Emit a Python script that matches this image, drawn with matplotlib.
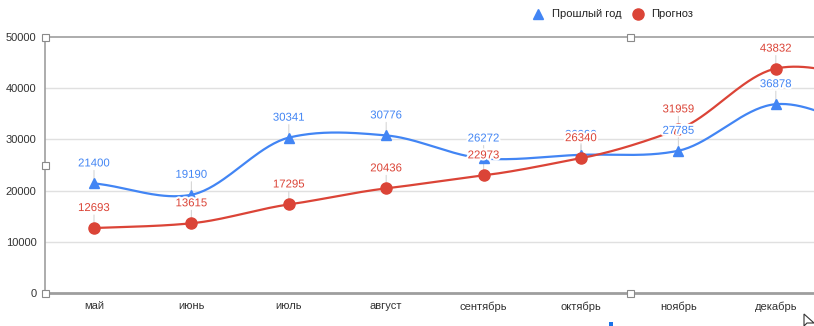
import numpy as np
import matplotlib
matplotlib.use("Agg")
import matplotlib.pyplot as plt
import matplotlib.patheffects as pe
from matplotlib.patches import Rectangle, Polygon

plt.rcParams['font.family'] = ['Liberation Sans', 'DejaVu Sans']

# ---- data ----
months = ["май", "июнь", "июль", "август", "сентябрь", "октябрь", "ноябрь", "декабрь", "январь"]
last_year = [21400, 19190, 30341, 30776, 26272, 26990, 27785, 36878, 31700]
forecast = [12693, 13615, 17295, 20436, 22973, 26340, 31959, 43832, 42000]
series_names = ["Прошлый год", "Прогноз"]
y_ticks = [0, 10000, 20000, 30000, 40000, 50000]

BLUE = "#4285F4"
RED = "#DB4437"

W, H = 814, 326
fig = plt.figure(figsize=(W / 100, H / 100), dpi=100)

def fx(px):
    return px / W

def fy(py):
    return 1 - py / H

ax_left, ax_top, ax_bottom = 45, 37, 293
ax = fig.add_axes([fx(ax_left), fy(ax_bottom), 1 - fx(ax_left), fy(ax_top) - fy(ax_bottom)])

sp = 97.4
x0 = 94
XLIM = ((ax_left - x0) / sp, (W - x0) / sp)


def smooth(vals, k=0.8, n=40):
    v = np.asarray(vals, dtype=float)
    m = np.zeros_like(v)
    m[1:-1] = k * (v[2:] - v[:-2]) / 2
    m[0] = k * (v[1] - v[0])
    m[-1] = k * (v[-1] - v[-2])
    xs, ys = [], []
    for i in range(len(v) - 1):
        s = np.linspace(0, 1, n)
        h00 = 2 * s**3 - 3 * s**2 + 1
        h10 = s**3 - 2 * s**2 + s
        h01 = -2 * s**3 + 3 * s**2
        h11 = s**3 - s**2
        xs.append(i + s)
        ys.append(h00 * v[i] + h10 * m[i] + h01 * v[i + 1] + h11 * m[i + 1])
    return np.concatenate(xs), np.concatenate(ys)

# grid
for t in y_ticks[1:-1]:
    ax.axhline(t, color="#e0e0e0", lw=1, zorder=0)
ax.axhline(50000, color="#9e9e9e", lw=1.2, zorder=1, clip_on=False)
ax.axhline(0, color="#9e9e9e", lw=2, zorder=1, clip_on=False)
for s in ax.spines.values():
    s.set_visible(False)
ax.axvline(XLIM[0], color="#9e9e9e", lw=1.2, zorder=1, clip_on=False)

xi = np.arange(len(months))
xs, ys = smooth(last_year)
ax.plot(xs, ys, color=BLUE, lw=1.6, zorder=3)
xs, ys = smooth(forecast)
ax.plot(xs, ys, color=RED, lw=1.6, zorder=3)
ax.plot(xi, last_year, ls="none", marker="^", ms=7, color=BLUE, zorder=4, clip_on=True)
ax.plot(xi, forecast, ls="none", marker="o", ms=8, color=RED, zorder=4, clip_on=True)

# annotations with stems
for vals, col, z in [(last_year, BLUE, 6), (forecast, RED, 7)]:
    for i, v in enumerate(vals[:8]):
        ax.annotate("", xy=(i, v), xytext=(0, 13), textcoords="offset pixels",
                    arrowprops=dict(arrowstyle="-", color="#d6d6d6", lw=0.8,
                                    shrinkA=0, shrinkB=0), zorder=2.5)
        ax.annotate(str(v), xy=(i, v), xytext=(0, 20), textcoords="offset pixels",
                    ha="center", va="center", color=col, fontsize=8.2, zorder=z,
                    path_effects=[pe.withStroke(linewidth=3, foreground="white")])

ax.set_xlim(*XLIM)
ax.set_ylim(0, 50000)
ax.set_yticks(y_ticks)
ax.set_yticklabels([str(t) for t in y_ticks])
ax.set_xticks(xi[:8])
ax.set_xticklabels(months[:8])
ax.tick_params(axis="both", length=0, labelsize=8, labelcolor="#333333")
ax.tick_params(axis="y", pad=6)
ax.tick_params(axis="x", pad=6)

# legend
fig.lines.append(plt.Line2D([fx(538)], [fy(14)], marker="^", ms=7, color=BLUE, ls="none",
                            transform=fig.transFigure))
fig.text(fx(552), fy(14), series_names[0], fontsize=8, color="#222222", va="center", ha="left")
fig.lines.append(plt.Line2D([fx(638)], [fy(14)], marker="o", ms=8, color=RED, ls="none",
                            transform=fig.transFigure))
fig.text(fx(651), fy(14), series_names[1], fontsize=8, color="#222222", va="center", ha="left")

# selection handles
for (hx, hy) in [(45, 37), (630, 37), (45, 165), (45, 293), (630, 293)]:
    fig.patches.append(Rectangle((fx(hx - 3.5), fy(hy + 3.5)), 7 / W, 7 / H,
                                 transform=fig.transFigure, facecolor="white",
                                 edgecolor="#8a8a8a", lw=0.8, zorder=10))
# small artifacts
fig.patches.append(Rectangle((fx(609), fy(326)), 4 / W, 4 / H, transform=fig.transFigure,
                             facecolor="#1a73e8", edgecolor="none", zorder=10))
fig.patches.append(Polygon([(fx(804), fy(314)), (fx(804), fy(326)), (fx(807), fy(323)),
                            (fx(814), fy(323))], closed=True, transform=fig.transFigure,
                           facecolor="white", edgecolor="#333333", lw=0.8, zorder=10))

fig.savefig("out.png", dpi=100)
